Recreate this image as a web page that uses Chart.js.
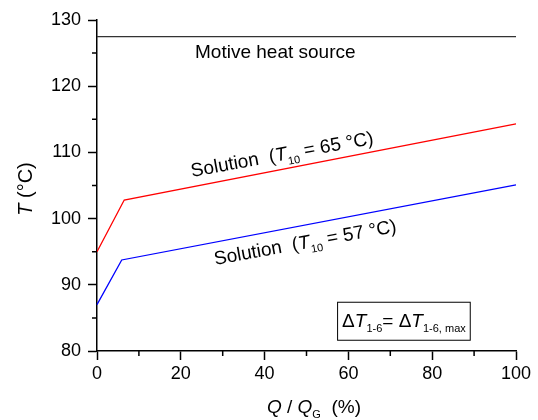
<!DOCTYPE html>
<html>
<head>
<meta charset="utf-8">
<script src="https://cdn.jsdelivr.net/npm/chart.js@4.4.1/dist/chart.umd.min.js"></script>
<style>
  html, body { margin: 0; padding: 0; background: #fff; }
  #wrap { width: 538px; height: 420px; }
</style>
</head>
<body>
<div id="wrap"><canvas id="myChart" width="538" height="420"></canvas></div>
<script>
// data
const qRed = [0, 6.5, 100];
const tRed = [95.0, 102.8, 114.3];
const qBlue = [0, 5.9, 100];
const tBlue = [87.0, 93.75, 105.1];
const qMotive = [0, 100];
const tMotive = [127.5, 127.5];

const xTicks = [0, 20, 40, 60, 80, 100];
const yTicks = [80, 90, 100, 110, 120, 130];
const xMinor = [10, 30, 50, 70, 90];
const yMinor = [85, 95, 105, 115, 125];

const FONT = "'Liberation Sans', Arial, sans-serif";

function pts(xs, ys) {
  return xs.map((x, i) => ({ x: x, y: ys[i] }));
}

// draws a run of text pieces (normal / italic / subscript)
function richText(ctx, segs, x, y, size, angle, align) {
  ctx.save();
  ctx.translate(x, y);
  ctx.rotate(angle || 0);
  let total = 0;
  segs.forEach((s) => {
    ctx.font = (s.it ? "italic " : "") + Math.round(size * (s.sub ? 0.6 : 1)) + "px " + FONT;
    s.w = ctx.measureText(s.t).width;
    total += s.w;
  });
  let cx = align === "center" ? -total / 2 : 0;
  ctx.fillStyle = "#000";
  segs.forEach((s) => {
    ctx.font = (s.it ? "italic " : "") + Math.round(size * (s.sub ? 0.6 : 1)) + "px " + FONT;
    ctx.fillText(s.t, cx, s.sub ? size * 0.28 : 0);
    cx += s.w;
  });
  ctx.restore();
  return total;
}

const annotations = {
  id: "annotations",
  afterDraw(chart) {
    const ctx = chart.ctx;
    const x = chart.scales.x;
    const y = chart.scales.y;
    ctx.save();
    ctx.textBaseline = "alphabetic";

    // minor ticks
    ctx.strokeStyle = "#000";
    ctx.lineWidth = 1.5;
    ctx.beginPath();
    xMinor.forEach((v) => {
      const px = x.getPixelForValue(v);
      ctx.moveTo(px, chart.chartArea.bottom);
      ctx.lineTo(px, chart.chartArea.bottom + 5);
    });
    yMinor.forEach((v) => {
      const py = y.getPixelForValue(v);
      ctx.moveTo(chart.chartArea.left, py);
      ctx.lineTo(chart.chartArea.left - 5, py);
    });
    ctx.stroke();

    // text on the plot
    richText(ctx, [{ t: "Motive heat source" }], x.getPixelForValue(23.4), y.getPixelForValue(124.3), 19, 0, "left");

    const ang = -10.3 * Math.PI / 180;
    richText(ctx, [
      { t: "Solution  (" }, { t: "T", it: true }, { t: "10", sub: true }, { t: " = 65 °C)" }
    ], x.getPixelForValue(22.7), y.getPixelForValue(106.3), 19, ang, "left");
    richText(ctx, [
      { t: "Solution  (" }, { t: "T", it: true }, { t: "10", sub: true }, { t: " = 57 °C)" }
    ], x.getPixelForValue(28.2), y.getPixelForValue(93.0), 19, ang, "left");

    // delta T box
    const bx = x.getPixelForValue(57.3);
    const bb = y.getPixelForValue(81.7);
    const w = richText(ctx, [
      { t: "Δ" }, { t: "T", it: true }, { t: "1-6", sub: true }, { t: "= Δ" },
      { t: "T", it: true }, { t: "1-6, max", sub: true }
    ], bx + 5, bb - 13, 19, 0, "left");
    ctx.lineWidth = 1;
    ctx.strokeRect(bx + 0.5, bb - 38 + 0.5, w + 9, 38);

    // axis titles
    richText(ctx, [
      { t: "Q", it: true }, { t: " / " }, { t: "Q", it: true }, { t: "G", sub: true }, { t: "  (%)" }
    ], 314, 413, 19, 0, "center");
    ctx.textBaseline = "middle";
    richText(ctx, [{ t: "T", it: true }, { t: " (°C)" }], 26, 189, 20, -Math.PI / 2, "center");
    ctx.restore();
  },
};

const ctx = document.getElementById("myChart").getContext("2d");
const myChart = new Chart(ctx, {
  type: "scatter",
  data: {
    datasets: [
      {
        label: "Motive heat source",
        data: pts(qMotive, tMotive),
        showLine: true,
        borderColor: "#333",
        borderWidth: 1.2,
        pointRadius: 0,
      },
      {
        label: "Solution (T10 = 65 °C)",
        data: pts(qRed, tRed),
        showLine: true,
        borderColor: "#ff0000",
        borderWidth: 1.3,
        pointRadius: 0,
      },
      {
        label: "Solution (T10 = 57 °C)",
        data: pts(qBlue, tBlue),
        showLine: true,
        borderColor: "#0000ff",
        borderWidth: 1.3,
        pointRadius: 0,
      },
    ],
  },
  options: {
    responsive: false,
    animation: false,
    clip: false,
    layout: { padding: { left: 0, top: 20, right: 22, bottom: 0 } },
    plugins: { legend: { display: false }, tooltip: { enabled: false } },
    scales: {
      x: {
        type: "linear",
        min: 0,
        max: 100,
        afterBuildTicks: (s) => { s.ticks = xTicks.map((v) => ({ value: v })); },
        afterFit: (s) => { s.height = 69; },
        border: { display: true, color: "#000", width: 1.5 },
        grid: { drawOnChartArea: false, drawTicks: true, tickLength: 9, tickColor: "#000", tickWidth: 1.5 },
        ticks: { color: "#000", padding: 3, maxRotation: 0, font: { family: FONT, size: 18 } },
      },
      y: {
        type: "linear",
        min: 80,
        max: 130,
        afterBuildTicks: (s) => { s.ticks = yTicks.map((v) => ({ value: v })); },
        afterFit: (s) => { s.width = 97; },
        border: { display: true, color: "#000", width: 1.5 },
        grid: { drawOnChartArea: false, drawTicks: true, tickLength: 9, tickColor: "#000", tickWidth: 1.5 },
        ticks: { color: "#000", padding: 7, font: { family: FONT, size: 18 } },
      },
    },
  },
  plugins: [annotations],
});
</script>
</body>
</html>
